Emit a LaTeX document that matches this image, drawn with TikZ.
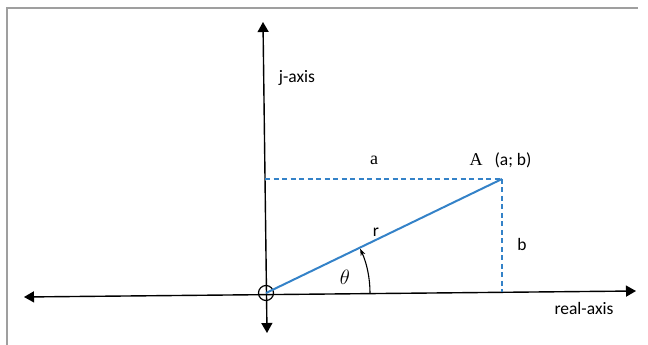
\documentclass[tikz,border=0pt]{standalone}
\usepackage{fontspec}
\setmainfont{Liberation Serif}
\setsansfont{Carlito}
\usetikzlibrary{arrows.meta}
\definecolor{vecblue}{RGB}{52,130,200}

\begin{document}
\begin{tikzpicture}[
    x=1pt, y=1pt,
    every node/.style={font=\sffamily\fontsize{17.5}{20}\selectfont},
    >={Triangle[length=10pt, width=11pt]},
    axis/.style={<->, line width=1.4pt, black},
    vec/.style={line width=2pt, vecblue},
    proj/.style={line width=1.8pt, vecblue, dash pattern=on 5pt off 3.5pt},
]
\useasboundingbox (0,0) rectangle (648,345);

% === Frame ===
\draw[gray!75, line width=1.3pt] (7,0) -- (7,337) -- (638,337);

% === Axes ===
\coordinate (jtop) at (263,323);
\coordinate (jbot) at (267,12);
\coordinate (rleft) at (24,48);
\coordinate (rright) at (636,54);
\draw[axis] (jbot) -- (jtop);
\draw[axis] (rleft) -- (rright);
\node[circle, draw, line width=1.2pt, minimum size=15pt, inner sep=0pt] (O) at (266,52) {};

\node (jlabel) at (297,267) {j-axis};
\node (rlabel) at (584,37) {real-axis};

% === Vector r to point A ===
\coordinate (A) at (502,166);
\coordinate (aleft) at (265,166);
\coordinate (bfoot) at (502,53);
\draw[proj] (aleft) -- (A);
\draw[proj] (A) -- (bfoot);
\draw[vec] (O.center) -- (A);

% === Angle ===
\draw[line width=1.1pt, -{Stealth[length=7pt, width=5pt]}]
    (370,52) arc[start angle=0, end angle=25.2, radius=104pt];

% === Labels ===
\node[font=\rmfamily\fontsize{18}{20}\selectfont] (lbla) at (374,185) {a};
\node[font=\rmfamily\fontsize{18}{20}\selectfont] (lblA) at (476,185) {A};
\node (lblab) at (513,185) {(a; b)};
\node (lblr) at (376,113) {r};
\node (lblb) at (522,101) {b};
\node[font=\fontsize{20}{22}\selectfont] (lbltheta) at (345,68) {$\theta$};

\end{tikzpicture}
\end{document}
